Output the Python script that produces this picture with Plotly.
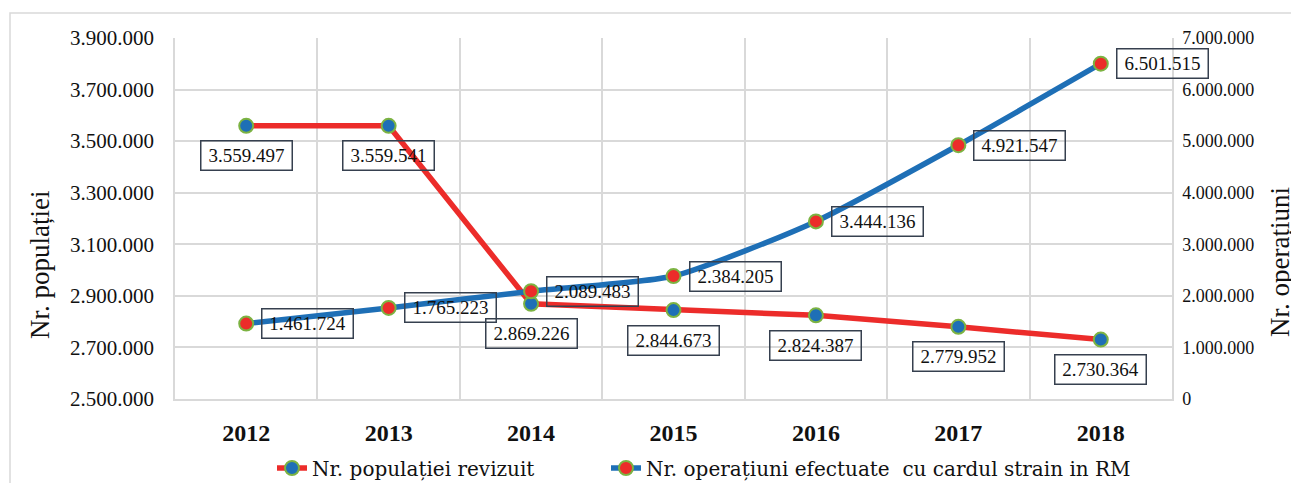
import plotly.graph_objects as go

years = ["2012", "2013", "2014", "2015", "2016", "2017", "2018"]
populatie = [3559497, 3559541, 2869226, 2844673, 2824387, 2779952, 2730364]
operatiuni = [1461724, 1765223, 2089483, 2384205, 3444136, 4921547, 6501515]

name_pop = "Nr. populației revizuit"
name_ops = "Nr. operațiuni efectuate \u00a0cu cardul strain in RM"

RED = "#ec2c2a"
BLUE = "#1e6fb6"
GREEN = "#7cb342"
SERIF = "Liberation Serif"
LEGSERIF = "DejaVu Serif"

W, H = 1291, 483
L, R, T, B = 175, 1172, 38, 399

xnum = [int(y) for y in years]


def fmt(v):
    return f"{v:,}".replace(",", ".")


def px_x(p):
    return (p - L) / (R - L)


def px_y(p):
    return (B - p) / (B - T)


fig = go.Figure()
fig.add_trace(go.Scatter(
    x=xnum, y=populatie, name=name_pop, mode="lines+markers",
    line=dict(color=RED, width=5.5),
    marker=dict(size=14, color=BLUE, line=dict(color=GREEN, width=2)),
    yaxis="y", legend="legend",
))
fig.add_trace(go.Scatter(
    x=xnum, y=operatiuni, name=name_ops, mode="lines+markers",
    line=dict(color=BLUE, width=5.5, shape="spline", smoothing=0.6),
    marker=dict(size=14, color=RED, line=dict(color=GREEN, width=2)),
    yaxis="y2", legend="legend2",
))

LBL = dict(family=SERIF, size=19, color="#111")
ann = []
for x, v in zip(xnum, populatie):
    ann.append(dict(x=x, y=v, xref="x", yref="y", text=fmt(v), showarrow=False,
                    yshift=-30, width=84, height=22, borderpad=3,
                    bordercolor="#36404f", borderwidth=1.5, font=LBL))
for x, v in zip(xnum, operatiuni):
    ann.append(dict(x=x, y=v, xref="x", yref="y2", text=fmt(v), showarrow=False,
                    xanchor="left", xshift=15, width=84, height=22, borderpad=3,
                    bordercolor="#36404f", borderwidth=1.5, font=LBL))

ann.append(dict(x=px_x(40), y=px_y(265), xref="paper", yref="paper",
                xanchor="center", yanchor="middle",
                text="Nr. populației", textangle=-90, showarrow=False,
                font=dict(family=SERIF, size=27, color="#111")))
ann.append(dict(x=px_x(1280), y=px_y(262), xref="paper", yref="paper",
                xanchor="center", yanchor="middle",
                text="Nr. operațiuni", textangle=-90, showarrow=False,
                font=dict(family=SERIF, size=27, color="#111")))

shapes = [dict(type="rect", xref="paper", yref="paper",
               x0=px_x(10), x1=px_x(1320), y0=px_y(520), y1=px_y(13),
               line=dict(color="#d9d9d9", width=1.5), fillcolor="rgba(0,0,0,0)",
               layer="below")]

LEGFONT = dict(family=LEGSERIF, size=20, color="#111")

fig.update_layout(
    width=W, height=H,
    margin=dict(l=L, r=W - R, t=T, b=H - B, autoexpand=False),
    paper_bgcolor="white", plot_bgcolor="white",
    separators=",.",
    font=dict(family=SERIF, size=18, color="#111"),
    showlegend=True,
    legend=dict(orientation="h", x=px_x(272), xanchor="left",
                y=px_y(468), yanchor="middle", font=LEGFONT),
    legend2=dict(orientation="h", x=px_x(606), xanchor="left",
                 y=px_y(468), yanchor="middle", font=LEGFONT),
    xaxis=dict(type="linear", range=[xnum[0] - 0.5, xnum[-1] + 0.5],
               tickmode="array", tickvals=xnum,
               ticktext=[f"<b>{y}</b>" for y in years],
               showgrid=False, zeroline=False, automargin=False,
               showline=True, linecolor="#d9d9d9", linewidth=1.5,
               ticks="outside", ticklen=11, tickcolor="rgba(0,0,0,0)",
               tickangle=0,
               tickfont=dict(family=SERIF, size=24, color="#111"),
               minor=dict(tickmode="linear", tick0=xnum[0] - 0.5, dtick=1,
                          showgrid=True, gridcolor="#d9d9d9", gridwidth=1.5,
                          ticks="")),
    yaxis=dict(range=[2500000, 3900000], dtick=200000, tick0=2500000,
               tickformat=",d", showgrid=True, gridcolor="#d9d9d9", gridwidth=1.5,
               zeroline=False, showline=True, linecolor="#d9d9d9", linewidth=1.5,
               automargin=False,
               ticks="outside", ticklen=15, tickcolor="rgba(0,0,0,0)",
               tickfont=dict(family=SERIF, size=21, color="#111")),
    yaxis2=dict(range=[0, 7000000], dtick=1000000, tick0=0, overlaying="y",
                side="right", tickformat=",d", showgrid=False, zeroline=False,
                showline=True, linecolor="#d9d9d9", linewidth=1.5,
                automargin=False,
                ticks="outside", ticklen=5, tickcolor="rgba(0,0,0,0)",
                tickfont=dict(family=SERIF, size=18, color="#111")),
    annotations=ann,
    shapes=shapes,
)

fig.write_html(
    "out.html",
    config={"displayModeBar": False},
    post_script="document.body.style.margin='0';document.body.style.overflow='hidden';",
)
